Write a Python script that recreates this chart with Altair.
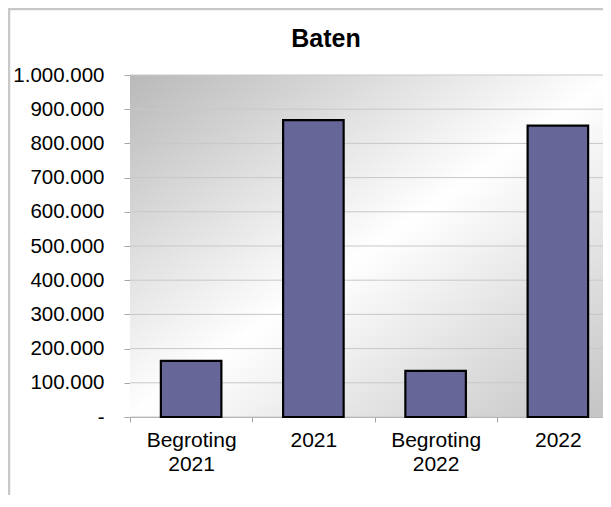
import altair as alt
import pandas as pd

categories = ["Begroting 2021", "2021", "Begroting 2022", "2022"]
values = [164000, 868000, 135000, 852000]
y_ticks = [0, 100000, 200000, 300000, 400000, 500000, 600000, 700000, 800000, 900000, 1000000]
title_text = "Baten"

df = pd.DataFrame({"cat": categories, "val": values})
grid_df = pd.DataFrame({"val": y_ticks})
one = pd.DataFrame({"k": [0]})

FONT = "Liberation Sans"
AXIS_GRAY = "#a6a6a6"
W, H = 489, 342

y_scale = alt.Scale(domain=[0, 1000000], nice=False)
y_axis = alt.Axis(title=None, values=y_ticks, labelFont=FONT, labelFontSize=20.5,
                  labelColor="black", labelPadding=20, tickSize=6,
                  tickColor=AXIS_GRAY, domainColor=AXIS_GRAY, grid=False,
                  labelExpr="datum.value == 0 ? '-' : join(split(format(datum.value, ','), ','), '.')")

grad = alt.Gradient(
    gradient="linear", x1=0, y1=0, x2=1, y2=1,
    stops=[alt.GradientStop(color="#b9b9b9", offset=0),
           alt.GradientStop(color="#ffffff", offset=0.5),
           alt.GradientStop(color="#c2c2c2", offset=1)],
)

background = alt.Chart(one).mark_rect(fill=grad).encode(
    x=alt.value(0), x2=alt.value(W), y=alt.value(0), y2=alt.value(H)
)

grid = alt.Chart(grid_df).mark_rule(color="#c8c8c8", strokeWidth=1).encode(
    y=alt.Y("val:Q", scale=y_scale, axis=y_axis)
)

bars = alt.Chart(df).mark_bar(
    color="#666699", stroke="black", strokeWidth=2.2,
    width=alt.RelativeBandSize(0.495)
).encode(
    x=alt.X("cat:N", sort=categories,
            scale=alt.Scale(paddingInner=0, paddingOuter=0),
            axis=alt.Axis(title=None, labelAngle=0, labelFont=FONT, labelFontSize=21,
                          labelColor="black", tickBand="extent", tickSize=5,
                          tickColor=AXIS_GRAY, domainColor=AXIS_GRAY, labelPadding=7,
                          labelLineHeight=24, labelExpr="split(datum.label, ' ')",
                          grid=False)),
    y=alt.Y("val:Q", scale=y_scale, axis=y_axis),
)

left_border = alt.Chart(one).mark_rule(color="#c8c8c8", strokeWidth=2.5).encode(
    x=alt.value(-121), y=alt.value(-66), y2=alt.value(420)
)
top_border = alt.Chart(one).mark_rule(color="#c8c8c8", strokeWidth=2.5).encode(
    x=alt.value(-122), x2=alt.value(W), y=alt.value(-66)
)
title = alt.Chart(one).mark_text(
    font=FONT, fontSize=25, fontWeight="bold", color="black",
    align="center", baseline="alphabetic"
).encode(x=alt.value(196), y=alt.value(-28), text=alt.value(title_text))

chart = alt.layer(background, grid, bars, left_border, top_border, title).properties(
    width=W, height=H,
    padding={"left": 122, "top": 67, "right": -16, "bottom": 78},
    autosize=alt.AutoSizeParams(type="none"),
).configure_view(stroke="transparent").configure(background="white")

chart.save("out.html", embed_options={"renderer": "svg", "actions": False})
